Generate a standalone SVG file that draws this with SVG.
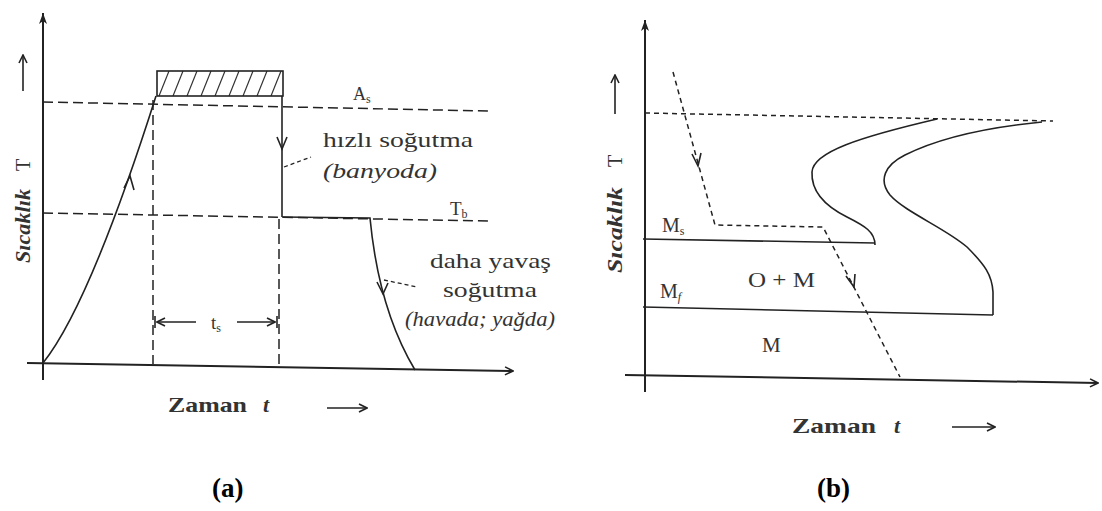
<svg xmlns="http://www.w3.org/2000/svg" width="1102" height="511" viewBox="0 0 1102 511">
<defs>
<style>
.ln{stroke:#222;stroke-width:1.6;fill:none}
.ax{stroke:#222;stroke-width:2;fill:none}
.dl{stroke:#222;stroke-width:1.5;fill:none;stroke-dasharray:10 5}
.ds{stroke:#222;stroke-width:1.5;fill:none;stroke-dasharray:5 4}
.ld{stroke:#222;stroke-width:1.3;fill:none;stroke-dasharray:4 3}
.t{font-family:"Liberation Serif","DejaVu Serif",serif;fill:#333}
.lab{font-family:"Liberation Serif","DejaVu Serif",serif;fill:#000;font-weight:bold}
</style>
<marker id="ah" markerWidth="10" markerHeight="10" refX="9" refY="5" orient="auto" markerUnits="userSpaceOnUse">
<path d="M1,1 L9,5 L1,9" fill="none" stroke="#222" stroke-width="1.6"/>
</marker>
<marker id="af" markerWidth="12" markerHeight="10" refX="11" refY="5" orient="auto" markerUnits="userSpaceOnUse">
<path d="M0,1 L11,5 L0,9 L3,5 Z" fill="#222"/>
</marker>
<pattern id="hatch" patternUnits="userSpaceOnUse" width="14" height="25" patternTransform="translate(157,71)">
<line x1="2" y1="25" x2="12" y2="0" stroke="#333" stroke-width="1.2"/>
</pattern>
</defs>

<g id="panel-a">
<g id="axes-a">
<line class="ax" x1="43" y1="380" x2="43" y2="13" marker-end="url(#af)"/>
<path class="ax" d="M27,363 L513,371" marker-end="url(#ah)"/>
<line class="ln" x1="23" y1="91" x2="23" y2="55" marker-end="url(#ah)"/>
<text class="t" transform="translate(30,263) rotate(-90)" font-size="20"><tspan font-style="italic" font-weight="bold" textLength="74" lengthAdjust="spacingAndGlyphs">Sıcaklık</tspan><tspan x="92">T</tspan></text>
</g>
<g id="ref-lines-a">
<line class="dl" x1="43" y1="102" x2="488" y2="111"/>
<line class="dl" x1="43" y1="213" x2="488" y2="221"/>
<line class="dl" x1="153" y1="100" x2="153" y2="364"/>
<line class="dl" x1="279" y1="219" x2="279" y2="369"/>
</g>
<g id="hold-box">
<rect x="157" y="71" width="126" height="25" fill="url(#hatch)" stroke="#222" stroke-width="1.6"/>
</g>
<g id="curves-a">
<path class="ln" d="M43,363 C83,313 128,184 156,96"/>
<path class="ln" d="M124,188 L130,176 L134,190"/>
<line class="ln" x1="282" y1="96" x2="282" y2="217"/>
<path class="ln" d="M277,137 L282,149 L287,137"/>
<path class="ln" d="M282,217 L370,218 C374,260 385,320 415,370"/>
<path class="ln" d="M377,282 L383,294 L388,283"/>
<path class="ld" d="M284,167 L311,157"/>
<path class="ld" d="M384,280 L417,287"/>
</g>
<g id="ts-dim">
<line class="ln" x1="155" y1="316" x2="155" y2="328"/>
<line class="ln" x1="196" y1="322" x2="157" y2="322" marker-end="url(#ah)"/>
<line class="ln" x1="237" y1="322" x2="275" y2="322" marker-end="url(#ah)"/>
<line class="ln" x1="277" y1="316" x2="277" y2="328"/>
<text class="t" x="211" y="329" font-size="19">t<tspan font-size="12" dy="3">s</tspan></text>
</g>
<g id="labels-a">
<text class="t" x="353" y="100" font-size="18">A<tspan font-size="12" dy="3">s</tspan></text>
<text class="t" x="450" y="215" font-size="19">T<tspan font-size="12" dy="3">b</tspan></text>
<text class="t" x="323" y="147" font-size="21" textLength="150" lengthAdjust="spacingAndGlyphs">hızlı soğutma</text>
<text class="t" x="323" y="178" font-size="21" font-style="italic" textLength="114" lengthAdjust="spacingAndGlyphs">(banyoda)</text>
<text class="t" x="430" y="268" font-size="21" textLength="121" lengthAdjust="spacingAndGlyphs">daha yavaş</text>
<text class="t" x="443" y="297" font-size="21" textLength="94" lengthAdjust="spacingAndGlyphs">soğutma</text>
<text class="t" x="405" y="326" font-size="21" font-style="italic" textLength="150" lengthAdjust="spacingAndGlyphs">(havada; yağda)</text>
<text class="t" x="168" y="412" font-size="22" font-weight="bold" textLength="79" lengthAdjust="spacingAndGlyphs">Zaman</text>
<text class="t" x="263" y="412" font-size="22" font-style="italic" font-weight="bold">t</text>
<line class="ln" x1="327" y1="408" x2="367" y2="408" marker-end="url(#ah)"/>
<text class="lab" x="212" y="497" font-size="27">(a)</text>
</g>
</g>

<g id="panel-b">
<g id="axes-b">
<line class="ax" x1="645" y1="392" x2="645" y2="20" marker-end="url(#af)"/>
<path class="ax" d="M625,375 L1098,383" marker-end="url(#ah)"/>
<line class="ln" x1="615" y1="114" x2="615" y2="75" marker-end="url(#ah)"/>
<text class="t" transform="translate(622,273) rotate(-90)" font-size="20"><tspan font-style="italic" font-weight="bold" textLength="86" lengthAdjust="spacingAndGlyphs">Sıcaklık</tspan><tspan x="106">T</tspan></text>
</g>
<g id="ttt-curves">
<line class="ds" x1="645" y1="113" x2="1053" y2="121"/>
<path class="ln" d="M875,245 C875,232 865,226 847,217 C825,206 811,192 812,172 C813,152 860,137 937,119"/>
<path class="ln" d="M993,315 L993,292 C992,275 985,265 967,247 C945,228 905,212 890,195 C878,180 885,165 905,155 C935,140 980,128 1042,122"/>
<line class="ln" x1="643" y1="239" x2="875" y2="243"/>
<line class="ln" x1="643" y1="307" x2="993" y2="315"/>
</g>
<g id="cooling-b">
<path class="ds" d="M673,72 L715,225 L823,227 L900,377"/>
<path class="ln" d="M692,154 L698,166 L701,153"/>
<path class="ln" d="M846,276 L854,287 L855,274"/>
</g>
<g id="labels-b">
<text class="t" x="662" y="232" font-size="20">M<tspan font-size="12" dy="3">s</tspan></text>
<text class="t" x="660" y="298" font-size="20">M<tspan font-size="12" dy="3" font-style="italic">f</tspan></text>
<text class="t" x="748" y="287" font-size="21" textLength="67" lengthAdjust="spacingAndGlyphs">O + M</text>
<text class="t" x="762" y="352" font-size="21">M</text>
<text class="t" x="792" y="433" font-size="22" font-weight="bold" textLength="84" lengthAdjust="spacingAndGlyphs">Zaman</text>
<text class="t" x="894" y="433" font-size="22" font-style="italic" font-weight="bold">t</text>
<line class="ln" x1="952" y1="427" x2="995" y2="427" marker-end="url(#ah)"/>
<text class="lab" x="817" y="497" font-size="27">(b)</text>
</g>
</g>
</svg>
